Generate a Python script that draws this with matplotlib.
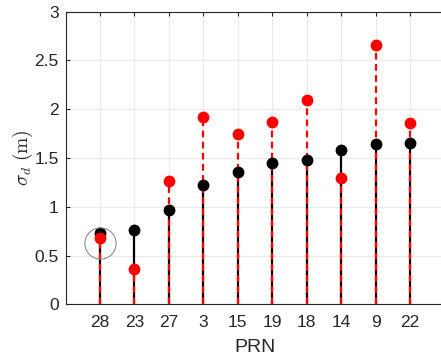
import numpy as np
import matplotlib
matplotlib.use("Agg")
import matplotlib.pyplot as plt

# PRN order and sigma_d values (m)
prn = ['28', '23', '27', '3', '15', '19', '18', '14', '9', '22']
sigma_black = [0.73, 0.76, 0.97, 1.22, 1.36, 1.45, 1.48, 1.58, 1.64, 1.65]
sigma_red = [0.68, 0.36, 1.26, 1.92, 1.75, 1.87, 2.09, 1.30, 2.66, 1.86]

plt.rcParams['font.family'] = ['Liberation Sans', 'DejaVu Sans']
plt.rcParams['mathtext.fontset'] = 'cm'

fig = plt.figure(figsize=(4.41, 3.56), dpi=100)
ax = fig.add_axes([65.5 / 441, 51.7 / 356, 379 / 441, 292.6 / 356])

x = np.arange(1, len(prn) + 1)

ax.set_axisbelow(True)
ax.grid(True, color='#ebebeb', linewidth=0.9)

# black solid stems, red dashed stems drawn on top
ax.vlines(x, 0, sigma_black, colors='black', linewidth=1.6, zorder=2)
ax.vlines(x, 0, sigma_red, colors='red', linewidth=1.6, linestyles=(0, (3, 2)), zorder=3)
ax.plot(x, sigma_black, 'o', color='black', markersize=7.5, zorder=4)
ax.plot(x, sigma_red, 'o', color='red', markersize=7.5, zorder=5)

# highlight the first PRN
ax.plot(1, 0.63, 'o', markerfacecolor='none', markeredgecolor='#808080',
        markersize=22.5, markeredgewidth=0.7, zorder=6)

ax.set_xlim(0, 11)
ax.set_ylim(0, 3)
ax.set_xticks(x)
ax.set_xticklabels(prn)
ax.set_yticks([0, 0.5, 1, 1.5, 2, 2.5, 3])
ax.set_yticklabels(['0', '0.5', '1', '1.5', '2', '2.5', '3'])
ax.tick_params(direction='in', length=3, labelsize=12.5, colors='#262626',
               top=True, right=True)
ax.tick_params(axis='x', pad=8)
ax.tick_params(axis='y', pad=5)
for s in ax.spines.values():
    s.set_color('#262626')
    s.set_linewidth(0.8)

ax.set_xlabel('PRN', fontsize=14, color='#262626', labelpad=6)
ax.set_ylabel(r'$\sigma_d\ (\mathrm{m})$', fontsize=14, color='#262626', labelpad=-0.5)

fig.savefig('out.png', dpi=100)
